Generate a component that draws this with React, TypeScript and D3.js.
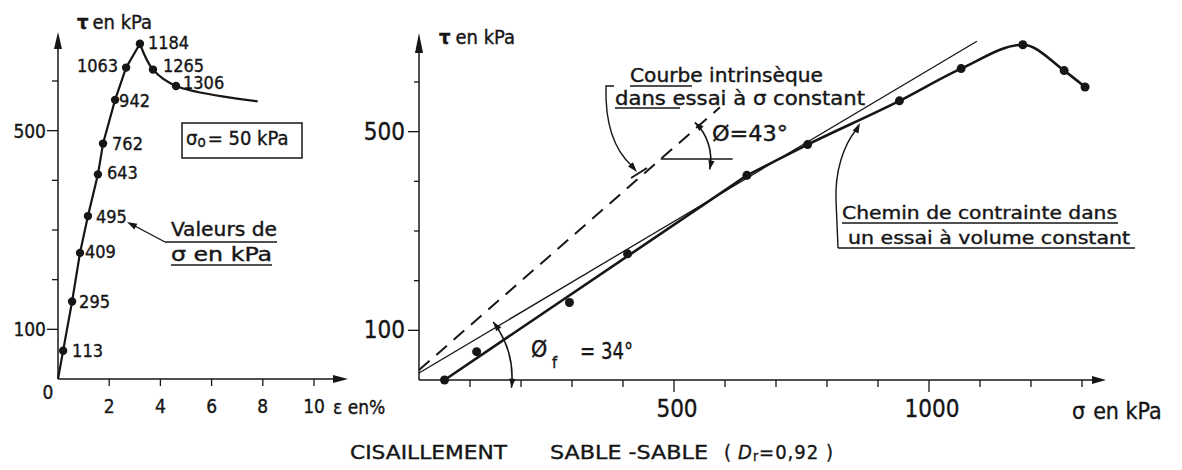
import React from 'react';
import * as d3 from 'd3';

const FONT = '"DejaVu Sans Condensed", "DejaVu Sans", sans-serif';
const INK = '#161616';

// Shear readings: normal stress σ (kPa), shear stress τ (kPa), strain ε (%)
const sigmaReadings = [113, 295, 409, 495, 643, 762, 942, 1063, 1184, 1265, 1306];
const tauReadings = [57, 156, 254, 328, 412, 474, 562, 627, 675, 623, 590];
const strainReadings = [0.2, 0.55, 0.86, 1.17, 1.56, 1.76, 2.23, 2.66, 3.2, 3.71, 4.61];

// Residual end of the strain curve (ε %, τ kPa)
const strainCurveEnd = [7.8, 559];

// Initial normal stress σo (kPa)
const sigmaInitial = 50;

// Readings marked on the stress path (σ, kPa)
const stressPathSigmas = [113, 295, 409, 643, 762, 942, 1063, 1184, 1265, 1306];
// The path follows the straight failure line up to this reading
const pathStraightTo = 643;

// Intrinsic curve at constant σ (dashed) and constant-volume envelope (thin): [σ, τ] pairs
const intrinsicLine = [[0, 20], [590, 549]];
const envelopeLine = [[0, 14], [1094, 682]];

// Angle construction for φ = 43° (horizontal reference at τ = 445, up to σ = 615)
const phiRefTau = 445;
const phiRefEndSigma = 615;

// Axis ticks
const strainTicks = [2, 4, 6, 8, 10];
const tauTicks = [100, 200, 300, 400, 500, 600];
const tauTickLabels = [100, 500];
const sigmaTicks = [100, 200, 300, 400, 500, 600, 700, 800, 900, 1000, 1100, 1200, 1300];
const sigmaTickLabels = [500, 1000];

// Label placement beside each reading on the strain curve
const readingLabelPlacement = [
  { dx: 9, dy: 0, anchor: 'start' },
  { dx: 7, dy: 0, anchor: 'start' },
  { dx: 5, dy: -1, anchor: 'start' },
  { dx: 8, dy: 0, anchor: 'start' },
  { dx: 9, dy: -2, anchor: 'start' },
  { dx: 9, dy: 0, anchor: 'start' },
  { dx: 4, dy: 1, anchor: 'start' },
  { dx: -8, dy: -2, anchor: 'end' },
  { dx: 8, dy: -1, anchor: 'start' },
  { dx: 10, dy: -4, anchor: 'start' },
  { dx: 7, dy: -3, anchor: 'start' },
];

function arrowHead(tipX: number, tipY: number, dirX: number, dirY: number, len: number, half: number) {
  const n = Math.hypot(dirX, dirY);
  const ux = dirX / n, uy = dirY / n;
  const bx = tipX - ux * len, by = tipY - uy * len;
  return `${tipX},${tipY} ${bx - uy * half},${by + ux * half} ${bx + uy * half},${by - ux * half}`;
}

// Arc around (cx, cy), angles in degrees counter-clockwise from +x, with arrowheads at both ends
function AngleArc({ cx, cy, r, a0, a1 }: { cx: number; cy: number; r: number; a0: number; a1: number }) {
  const rad = (a: number) => (a * Math.PI) / 180;
  const p = (a: number) => [cx + r * Math.cos(rad(a)), cy - r * Math.sin(rad(a))];
  const [x0, y0] = p(a0);
  const [x1, y1] = p(a1);
  const d = `M${x0},${y0} A${r},${r} 0 0 0 ${x1},${y1}`;
  return (
    <g>
      <path d={d} fill="none" stroke={INK} strokeWidth={1.6} />
      <polygon points={arrowHead(x0, y0, Math.sin(rad(a0)), Math.cos(rad(a0)), 9, 3.2)} fill={INK} />
      <polygon points={arrowHead(x1, y1, -Math.sin(rad(a1)), -Math.cos(rad(a1)), 9, 3.2)} fill={INK} />
    </g>
  );
}

export default function App() {
  const W = 1182, H = 470;

  const xL = d3.scaleLinear().domain([0, 10]).range([58, 314]);
  const yL = d3.scaleLinear().domain([0, 600]).range([379, 81]);
  const xR = d3.scaleLinear().domain([0, 1000]).range([419, 929]);
  const yR = d3.scaleLinear().domain([0, 600]).range([380, 82]);

  const readings = sigmaReadings.map((s, i) => ({ sigma: s, tau: tauReadings[i], strain: strainReadings[i] }));
  const peakIndex = d3.maxIndex(tauReadings);

  // Strain curve: straight segments up to the peak, smooth softening afterwards
  type SP = { strain: number; tau: number };
  const rising: SP[] = [{ strain: 0, tau: 0 }, ...readings.slice(0, peakIndex + 1)];
  const softening: SP[] = [
    ...readings.slice(peakIndex),
    { strain: strainCurveEnd[0], tau: strainCurveEnd[1] },
  ];
  const risingPath = d3.line<SP>().x(d => xL(d.strain)).y(d => yL(d.tau))(rising) || '';
  const softeningPath =
    d3.line<SP>().x(d => xL(d.strain)).y(d => yL(d.tau)).curve(d3.curveCatmullRom.alpha(0.5))(softening) || '';

  // Stress path in the σ-τ plane
  type TP = { sigma: number; tau: number };
  const tauBySigma = new Map(sigmaReadings.map((s, i) => [s, tauReadings[i]]));
  const pathPts: TP[] = [
    { sigma: sigmaInitial, tau: 0 },
    ...stressPathSigmas.map(s => ({ sigma: s, tau: tauBySigma.get(s) as number })),
  ];
  const bendIdx = pathPts.findIndex(p => p.sigma === pathStraightTo);
  const lineR = d3.line<TP>().x(d => xR(d.sigma)).y(d => yR(d.tau));
  const straightPath = lineR([pathPts[0], pathPts[bendIdx]]) || '';
  const curvedPath =
    d3.line<TP>().x(d => xR(d.sigma)).y(d => yR(d.tau)).curve(d3.curveMonotoneX)(pathPts.slice(bendIdx)) || '';

  const pairLine = d3.line<number[]>().x(d => xR(d[0])).y(d => yR(d[1]));

  // φ = 43° construction: where the horizontal reference meets the dashed line
  const slopeI = (intrinsicLine[1][1] - intrinsicLine[0][1]) / (intrinsicLine[1][0] - intrinsicLine[0][0]);
  const phiCenterSigma = (phiRefTau - intrinsicLine[0][1]) / slopeI;
  const phiCx = xR(phiCenterSigma), phiCy = yR(phiRefTau);

  // lettering is drawn slightly heavier, like pen lettering
  const txt = { fontFamily: FONT, fill: INK, stroke: INK, strokeWidth: 0.35 } as const;

  return (
    <svg
      width={W}
      height={H}
      viewBox={`0 0 ${W} ${H}`}
      style={{ position: 'absolute', left: 0, top: 0, background: '#fff' }}
    >
      <rect width={W} height={H} fill="#fff" />

      {/* ---------- Left: τ versus strain ---------- */}
      <g>
        <line x1={xL(0)} y1={yL(0)} x2={xL(0)} y2={36} stroke={INK} strokeWidth={1.5} />
        <polygon points={arrowHead(xL(0), 32, 0, -1, 17, 4)} fill={INK} />
        <line x1={xL(0)} y1={yL(0)} x2={342} y2={yL(0)} stroke={INK} strokeWidth={1.5} />
        <polygon points={arrowHead(348, yL(0), 1, 0, 15, 4)} fill={INK} />

        {tauTicks.map(t => {
          const labeled = tauTickLabels.includes(t);
          return (
            <line key={t} x1={xL(0) - (labeled ? 11 : 6)} x2={xL(0)} y1={yL(t)} y2={yL(t)} stroke={INK} strokeWidth={1.3} />
          );
        })}
        {tauTickLabels.map(t => (
          <text key={t} x={46} y={yL(t)} dominantBaseline="central" textAnchor="end" fontSize={19} {...txt}>
            {t}
          </text>
        ))}
        <text x={48} y={392} dominantBaseline="central" textAnchor="middle" fontSize={19} {...txt}>
          0
        </text>
        {strainTicks.map(t => (
          <g key={t}>
            <line x1={xL(t)} x2={xL(t)} y1={yL(0)} y2={yL(0) + 7} stroke={INK} strokeWidth={1.3} />
            <text x={xL(t)} y={406} dominantBaseline="central" textAnchor="middle" fontSize={19} {...txt}>
              {t}
            </text>
          </g>
        ))}
        <text x={333} y={407} dominantBaseline="central" fontSize={19} {...txt}>
          ε en%
        </text>
        <text x={77} y={22} dominantBaseline="central" fontSize={20} {...txt}>
          <tspan fontWeight="bold">τ</tspan>
          <tspan dx={4}>en kPa</tspan>
        </text>

        <path d={risingPath} fill="none" stroke={INK} strokeWidth={2.2} strokeLinejoin="round" />
        <path d={softeningPath} fill="none" stroke={INK} strokeWidth={2.2} />
        {readings.map((d, i) => {
          const pl = readingLabelPlacement[i];
          return (
            <g key={d.sigma}>
              <circle cx={xL(d.strain)} cy={yL(d.tau)} r={4.2} fill={INK} />
              <text
                x={xL(d.strain) + pl.dx}
                y={yL(d.tau) + pl.dy}
                dominantBaseline="central"
                textAnchor={pl.anchor as any}
                fontSize={18}
                {...txt}
              >
                {d.sigma}
              </text>
            </g>
          );
        })}

        {/* σo box */}
        <rect x={182} y={123} width={120} height={35} fill="none" stroke={INK} strokeWidth={1.5} />
        <text x={186} y={138} dominantBaseline="central" fontSize={20} {...txt}>
          σ
          <tspan fontSize={15} dy={4}>o</tspan>
          <tspan dy={-4} dx={2}>= 50 kPa</tspan>
        </text>

        {/* Valeurs de σ en kPa */}
        <text x={171} y={229} dominantBaseline="central" fontSize={19} textLength={106} lengthAdjust="spacingAndGlyphs" {...txt}>
          Valeurs de
        </text>
        <line x1={165} x2={277} y1={242} y2={242} stroke={INK} strokeWidth={1.5} />
        <text x={171} y={254} dominantBaseline="central" fontSize={19} textLength={101} lengthAdjust="spacingAndGlyphs" {...txt}>
          σ en kPa
        </text>
        <line x1={171} x2={272} y1={265} y2={265} stroke={INK} strokeWidth={1.5} />
        <line x1={165} y1={242} x2={133} y2={225} stroke={INK} strokeWidth={1.4} />
        <polygon points={arrowHead(127, 222, -32, -17, 10, 3.2)} fill={INK} />
      </g>

      {/* ---------- Right: stress path τ versus σ ---------- */}
      <g>
        <line x1={xR(0)} y1={yR(0)} x2={xR(0)} y2={38} stroke={INK} strokeWidth={1.5} />
        <polygon points={arrowHead(xR(0), 33, 0, -1, 20, 4)} fill={INK} />
        <line x1={xR(0)} y1={yR(0)} x2={1098} y2={yR(0)} stroke={INK} strokeWidth={1.5} />
        <polygon points={arrowHead(1106, yR(0), 1, 0, 14, 4)} fill={INK} />

        {tauTicks.map(t => {
          const labeled = tauTickLabels.includes(t);
          return (
            <line key={t} x1={xR(0) - (labeled ? 11 : 5)} x2={xR(0)} y1={yR(t)} y2={yR(t)} stroke={INK} strokeWidth={1.3} />
          );
        })}
        {tauTickLabels.map(t => (
          <text key={t} x={405} y={yR(t)} dominantBaseline="central" textAnchor="end" fontSize={24} {...txt}>
            {t}
          </text>
        ))}
        {sigmaTicks.map(t => {
          const labeled = sigmaTickLabels.includes(t);
          return (
            <line key={t} x1={xR(t)} x2={xR(t)} y1={yR(0)} y2={yR(0) + (labeled ? 12 : 7)} stroke={INK} strokeWidth={1.3} />
          );
        })}
        {sigmaTickLabels.map(t => (
          <text key={t} x={xR(t) + 3} y={409} dominantBaseline="central" textAnchor="middle" fontSize={24} {...txt}>
            {t}
          </text>
        ))}
        <text x={1072} y={411} dominantBaseline="central" fontSize={23} {...txt}>
          σ<tspan dx={8}>en kPa</tspan>
        </text>
        <text x={439} y={37} dominantBaseline="central" fontSize={20} {...txt}>
          <tspan fontWeight="bold">τ</tspan>
          <tspan dx={5}>en kPa</tspan>
        </text>

        {/* intrinsic curve (dashed) and envelope (thin) */}
        <path d={pairLine(intrinsicLine) || ''} fill="none" stroke={INK} strokeWidth={2} strokeDasharray="14 9" />
        <path d={pairLine(envelopeLine) || ''} fill="none" stroke={INK} strokeWidth={1.3} />

        {/* stress path */}
        <path d={straightPath} fill="none" stroke={INK} strokeWidth={2.6} />
        <path d={curvedPath} fill="none" stroke={INK} strokeWidth={2.6} />
        {pathPts.map(d => (
          <circle key={d.sigma} cx={xR(d.sigma)} cy={yR(d.tau)} r={4.5} fill={INK} />
        ))}

        {/* φ = 43° */}
        <line x1={phiCx} y1={phiCy} x2={xR(phiRefEndSigma)} y2={phiCy} stroke={INK} strokeWidth={1.4} />
        <AngleArc cx={phiCx} cy={phiCy} r={50} a0={-12} a1={47} />
        <text x={712} y={133} dominantBaseline="central" fontSize={22} textLength={76} lengthAdjust="spacingAndGlyphs" {...txt}>
          Ø=43°
        </text>

        {/* φf = 34° */}
        <AngleArc cx={xR(0)} cy={yR(4)} r={93} a0={-6} a1={37} />
        <text x={531} y={349} dominantBaseline="central" fontSize={23} {...txt}>
          Ø
        </text>
        <text x={552} y={362} dominantBaseline="central" fontSize={16} {...txt}>
          f
        </text>
        <text x={580} y={351} dominantBaseline="central" fontSize={23} textLength={53} lengthAdjust="spacingAndGlyphs" {...txt}>
          = 34°
        </text>

        {/* Courbe intrinsèque annotation */}
        <text x={630} y={75} dominantBaseline="central" fontSize={19} textLength={193} lengthAdjust="spacingAndGlyphs" {...txt}>
          Courbe intrinsèque
        </text>
        <text x={615} y={98} dominantBaseline="central" fontSize={19} textLength={250} lengthAdjust="spacingAndGlyphs" {...txt}>
          dans essai à σ constant
        </text>
        <line x1={630} x2={692} y1={86} y2={86} stroke={INK} strokeWidth={1.4} />
        <line x1={615} x2={680} y1={108} y2={108} stroke={INK} strokeWidth={1.4} />
        <path d="M614,86 L606,86 C605,120 612,148 632,166" fill="none" stroke={INK} strokeWidth={1.4} />
        <polygon points={arrowHead(637, 172, 1, 1.15, 10, 3.2)} fill={INK} />
        <line x1={631} y1={178} x2={647} y2={168} stroke={INK} strokeWidth={2} />

        {/* Chemin de contrainte annotation */}
        <text x={842} y={212} dominantBaseline="central" fontSize={18} textLength={275} lengthAdjust="spacingAndGlyphs" {...txt}>
          Chemin de contrainte dans
        </text>
        <line x1={842} x2={1118} y1={223} y2={223} stroke={INK} strokeWidth={1.4} />
        <text x={848} y={237} dominantBaseline="central" fontSize={18} textLength={282} lengthAdjust="spacingAndGlyphs" {...txt}>
          un essai à volume constant
        </text>
        <line x1={838} x2={1135} y1={248} y2={248} stroke={INK} strokeWidth={1.4} />
        <path d="M838,248 L836,200 C835,172 843,146 856,130" fill="none" stroke={INK} strokeWidth={1.4} />
        <polygon points={arrowHead(860, 123, 0.5, -1, 10, 3.2)} fill={INK} />
      </g>

      {/* ---------- Title ---------- */}
      <text x={350} y={452} dominantBaseline="central" fontSize={20} textLength={157} lengthAdjust="spacingAndGlyphs" {...txt}>
        CISAILLEMENT
      </text>
      <text x={550} y={452} dominantBaseline="central" fontSize={20} textLength={158} lengthAdjust="spacingAndGlyphs" {...txt}>
        SABLE -SABLE
      </text>
      <text x={724} y={452} dominantBaseline="central" fontSize={20} letterSpacing={1} {...txt}>
        (<tspan dx={6} fontStyle="italic">D</tspan>
        <tspan fontSize={14} dy={4}>r</tspan>
        <tspan dy={-4}>=0,92 )</tspan>
      </text>
    </svg>
  );
}
